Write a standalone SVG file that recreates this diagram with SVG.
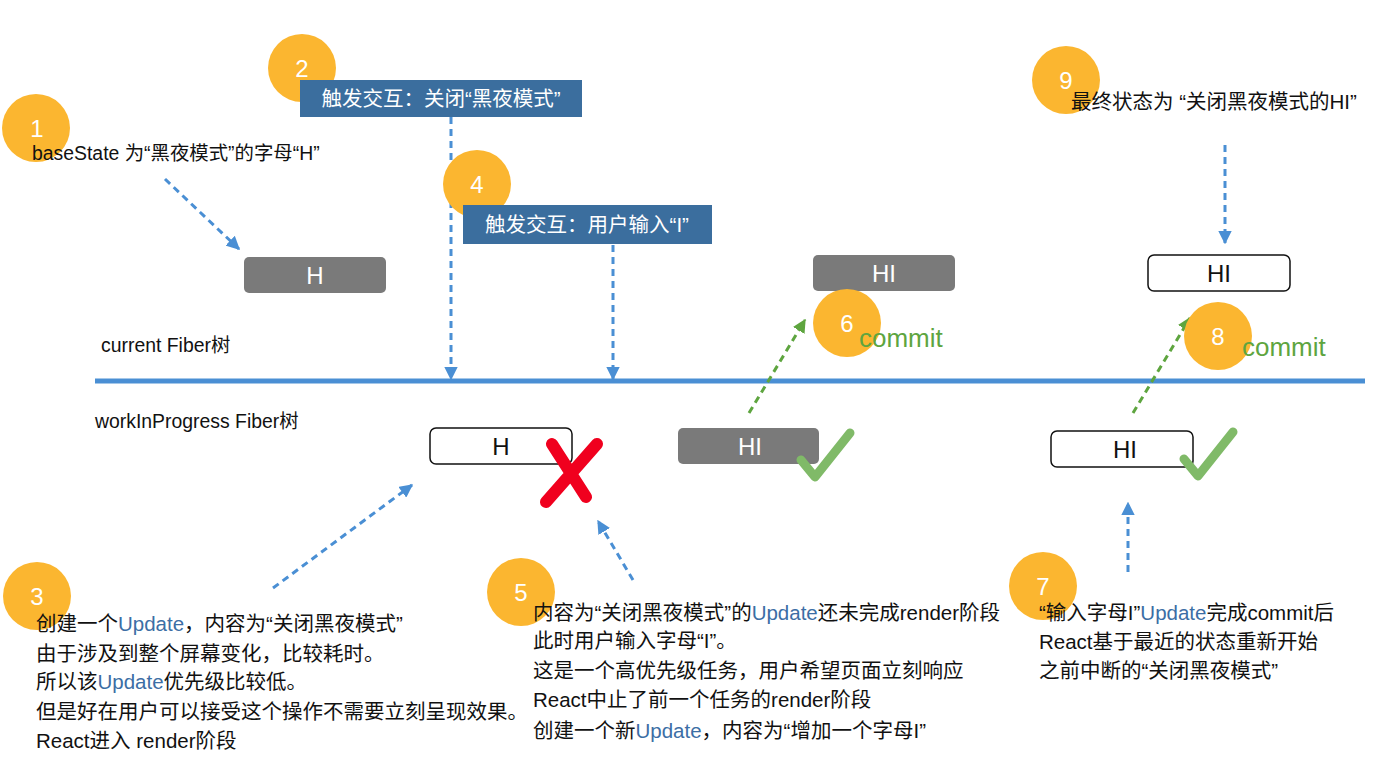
<svg xmlns="http://www.w3.org/2000/svg" width="1381" height="771" viewBox="0 0 1381 771">
<defs>
<style>
text{font-family:"Liberation Sans","Noto Sans CJK SC",sans-serif}
.num{fill:#fff;font-size:24px;text-anchor:middle}
.badge{fill:#FBB630}
.t{fill:#111;font-size:20.5px}
.s{font-size:19.4px}
.u{fill:#3C6EA5}
.box-g{fill:#7A7A7A}
.box-w{fill:#fff;stroke:#111;stroke-width:1.5}
.bt{font-size:24px;text-anchor:middle}
.blue{fill:#3B6E9E}
.dash{fill:none;stroke:#4A8FD4;stroke-width:3;stroke-dasharray:7 5}
.gdash{fill:none;stroke:#5EA53F;stroke-width:3;stroke-dasharray:7 5}
.commit{fill:#5EA53F;font-size:26px}
.check{fill:none;stroke:#80BA68;stroke-width:9;stroke-linecap:round;stroke-linejoin:round}
.x{fill:none;stroke:#F0001E;stroke-width:12;stroke-linecap:round}
</style>
<marker id="ab" viewBox="0 0 10 10" refX="9" refY="5" markerWidth="4.5" markerHeight="4.5" orient="auto" markerUnits="strokeWidth"><path d="M0,0L10,5L0,10z" fill="#4A8FD4"/></marker>
<marker id="ag" viewBox="0 0 10 10" refX="9" refY="5" markerWidth="4.5" markerHeight="4.5" orient="auto" markerUnits="strokeWidth"><path d="M0,0L10,5L0,10z" fill="#5EA53F"/></marker>
</defs>
<rect width="1381" height="771" fill="#fff"/>

<g id="timeline">
<line x1="95" y1="381" x2="1365" y2="381" stroke="#4A8FD4" stroke-width="5"/>
<text class="t s" x="101" y="352">current Fiber树</text>
<text class="t s" x="95" y="428">workInProgress Fiber树</text>
</g>

<g id="connectors">
<line class="dash" x1="165" y1="179" x2="239" y2="249" marker-end="url(#ab)"/>
<line class="dash" x1="451" y1="117" x2="451" y2="379" marker-end="url(#ab)"/>
<line class="dash" x1="613" y1="245" x2="613" y2="379" marker-end="url(#ab)"/>
<line class="dash" x1="1225" y1="145" x2="1225" y2="243" marker-end="url(#ab)"/>
<line class="gdash" x1="749" y1="413" x2="805" y2="320" marker-end="url(#ag)"/>
<line class="gdash" x1="1133" y1="413" x2="1190" y2="318" marker-end="url(#ag)"/>
<line class="dash" x1="273" y1="588" x2="412" y2="485" marker-end="url(#ab)"/>
<line class="dash" x1="633" y1="580" x2="598" y2="521" marker-end="url(#ab)"/>
<line class="dash" x1="1128" y1="572" x2="1128" y2="503" marker-end="url(#ab)"/>
</g>

<g id="step1">
<circle class="badge" cx="36" cy="128" r="34"/>
<text class="num" x="37" y="137">1</text>
<text class="t s" x="32" y="160">baseState 为“黑夜模式”的字母“H”</text>
</g>

<g id="step2">
<circle class="badge" cx="302" cy="68" r="34"/>
<text class="num" x="302" y="77">2</text>
<rect class="blue" x="300" y="80" width="282" height="37"/>
<text x="441" y="106" fill="#fff" font-size="20.5" text-anchor="middle">触发交互：关闭“黑夜模式”</text>
</g>

<g id="step4">
<circle class="badge" cx="477" cy="184" r="34"/>
<text class="num" x="477" y="193">4</text>
<rect class="blue" x="463" y="205" width="249" height="39"/>
<text x="587" y="232" fill="#fff" font-size="20.5" text-anchor="middle">触发交互：用户输入“I”</text>
</g>

<g id="nodeH-current">
<rect class="box-g" x="244" y="257" width="142" height="36" rx="5"/>
<text class="bt" x="315" y="284" fill="#fff">H</text>
</g>

<g id="nodeHI-current1">
<rect class="box-g" x="813" y="255" width="142" height="36" rx="5"/>
<text class="bt" x="884" y="282" fill="#fff">HI</text>
</g>

<g id="nodeHI-current2">
<rect class="box-w" x="1148" y="255" width="142" height="36" rx="6"/>
<text class="bt" x="1219" y="282" fill="#111">HI</text>
</g>

<g id="step9">
<circle class="badge" cx="1066" cy="80" r="34"/>
<text class="num" x="1066" y="89">9</text>
<text class="t" x="1071" y="109">最终状态为 “关闭黑夜模式的HI”</text>
</g>

<g id="step6">
<circle class="badge" cx="847" cy="323" r="34"/>
<text class="num" x="847" y="332">6</text>
<text class="commit" x="859" y="347">commit</text>
</g>

<g id="step8">
<circle class="badge" cx="1218" cy="336" r="34"/>
<text class="num" x="1218" y="345">8</text>
<text class="commit" x="1242" y="356">commit</text>
</g>

<g id="nodeH-wip">
<rect class="box-w" x="430" y="428" width="142" height="36" rx="6"/>
<text class="bt" x="501" y="455" fill="#111">H</text>
<path class="x" d="M552,444L586,497M597,444L546,502"/>
</g>

<g id="nodeHI-wip1">
<rect class="box-g" x="678" y="428" width="141" height="36" rx="5"/>
<text class="bt" x="750" y="455" fill="#fff">HI</text>
<path class="check" d="M801,460L815,477L850,433"/>
</g>

<g id="nodeHI-wip2">
<rect class="box-w" x="1051" y="431" width="142" height="36" rx="6"/>
<text class="bt" x="1125" y="458" fill="#111">HI</text>
<path class="check" d="M1184,459L1198,476L1233,432"/>
</g>

<g id="step3">
<circle class="badge" cx="37" cy="596" r="34"/>
<text class="num" x="37" y="605">3</text>
<text class="t" x="36" y="631">创建一个<tspan class="u">Update</tspan>，内容为“关闭黑夜模式”</text>
<text class="t" x="36" y="661">由于涉及到整个屏幕变化，比较耗时。</text>
<text class="t" x="36" y="689">所以该<tspan class="u">Update</tspan>优先级比较低。</text>
<text class="t" x="36" y="719">但是好在用户可以接受这个操作不需要立刻呈现效果。</text>
<text class="t" x="36" y="748">React进入 render阶段</text>
</g>

<g id="step5">
<circle class="badge" cx="521" cy="592" r="34"/>
<text class="num" x="521" y="601">5</text>
<text class="t" x="533" y="620">内容为“关闭黑夜模式”的<tspan class="u">Update</tspan>还未完成render阶段</text>
<text class="t" x="533" y="648">此时用户输入字母“I”。</text>
<text class="t" x="533" y="678">这是一个高优先级任务，用户希望页面立刻响应</text>
<text class="t" x="533" y="707">React中止了前一个任务的render阶段</text>
<text class="t" x="533" y="738">创建一个新<tspan class="u">Update</tspan>，内容为“增加一个字母I”</text>
</g>

<g id="step7">
<circle class="badge" cx="1043" cy="586" r="34"/>
<text class="num" x="1043" y="595">7</text>
<text class="t" x="1039" y="620">“输入字母I”<tspan class="u">Update</tspan>完成commit后</text>
<text class="t" x="1039" y="649">React基于最近的状态重新开始</text>
<text class="t" x="1039" y="678">之前中断的“关闭黑夜模式”</text>
</g>
</svg>
